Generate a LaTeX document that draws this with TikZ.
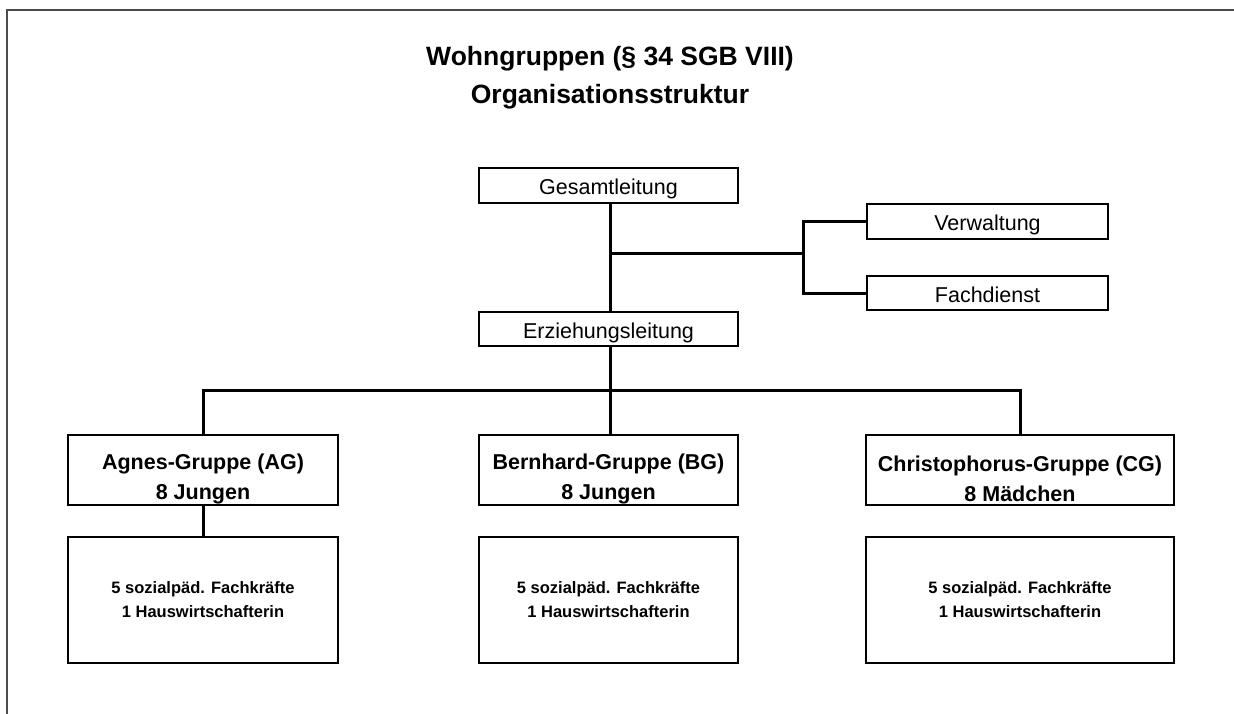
\documentclass[tikz,border=0pt]{standalone}
\usepackage{fontspec}
\setmainfont{Liberation Sans}
\usepackage{tikz}

\tikzset{
  box/.style={draw,line width=1.6pt,inner sep=0pt,align=center},
  leadbox/.style={box,font=\fontsize{21.5}{26}\selectfont,text height=19pt,text depth=0pt},
  groupbox/.style={box,minimum height=70},
  grouptext/.style={align=center,yshift=-9pt,font=\bfseries\fontsize{21.5}{30}\selectfont},
  staffbox/.style={box,minimum height=126,font=\bfseries\fontsize{16.5}{24}\selectfont},
  link/.style={line width=3pt},
}

\begin{document}
\begin{tikzpicture}[x=1pt,y=-1pt]
            \useasboundingbox (0,0) rectangle (1234,714);
            \draw[line width=2pt,black!70] (7,714) -- (7,10) -- (1234,10);
            %
            \node[font=\bfseries\fontsize{26.5}{38}\selectfont,align=center] (title) at (610,78)
              {Wohngruppen (§ 34 SGB VIII)\\Organisationsstruktur};
            %
            \node[leadbox,minimum width=259,minimum height=35] (gesamt) at (608.5,185.5) {Gesamtleitung};
            \node[leadbox,minimum width=241,minimum height=35] (verw) at (987.5,221.5) {Verwaltung};
            \node[leadbox,minimum width=241,minimum height=34] (fach) at (987.5,293) {Fachdienst};
            \node[leadbox,minimum width=259,minimum height=34] (erz) at (608.5,329) {Erziehungsleitung};
            %
            \node[groupbox,minimum width=270,
              label={[grouptext]center:{Agnes-Gruppe (AG)\\8 Jungen}}] (agnes) at (203,470) {};
            \node[groupbox,minimum width=259,
              label={[grouptext]center:{Bernhard-Gruppe (BG)\\8 Jungen}}] (bern) at (608.5,470) {};
            \node[groupbox,minimum width=308,
              label={[grouptext]center:{Christophorus-Gruppe (CG)\\8 Mädchen}}] (christ) at (1020,470) {};
            %
            \node[staffbox,minimum width=270] (agstaff) at (203,600) {5 sozialpäd. Fachkräfte\\1 Hauswirtschafterin};
            \node[staffbox,minimum width=259] (bgstaff) at (608.5,600) {5 sozialpäd. Fachkräfte\\1 Hauswirtschafterin};
            \node[staffbox,minimum width=308] (cgstaff) at (1020,600) {5 sozialpäd. Fachkräfte\\1 Hauswirtschafterin};
            %
            \coordinate (stab) at (610,253);
            \coordinate (fork) at (803,253);
            \coordinate (bus) at (610,390);
            %
            \draw[link] (gesamt.south -| stab) -- (erz.north -| stab);
            \draw[link] (stab) -- (fork);
            \draw[link] (verw.west) -| (fork) |- (fach.west);
            \draw[link] (erz.south -| bus) -- (bern.north -| bus);
            \draw[link] (agnes.north) |- (bus) -| (christ.north);
            \draw[link] (agnes.south) -- (agstaff.north);
        \end{tikzpicture}
\end{document}
